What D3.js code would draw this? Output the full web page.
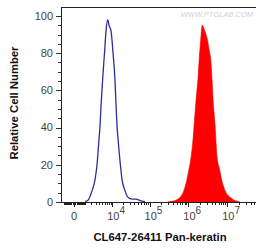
<!DOCTYPE html>
<html><head><meta charset="utf-8">
<script src="https://cdn.jsdelivr.net/npm/d3@7"></script>
<style>body{margin:0;background:#fff;}svg{display:block;}</style>
</head><body>
<svg id="c" width="256" height="249"></svg>
<script>
// Data (fluorescence intensity, relative cell number)
const controlX = [1067,1500,2210,2868,3370,3940,4257,4590,5120,5990,6560,7380,8060,9220,10530,12000,12800,13640,14540,16500,18750,22600,27200,34800,44400,56600,76400];
const controlY = [0.3,1,6,12,20,34,41,52,65,82,92,98,95,92,80,65,52,41,34,22,12,6,2.5,1.5,1.5,0.8,0.2];
const sampleX = [300000,361000,485000,614000,734000,877000,1030000,1180000,1330000,1410000,1590000,1800000,1900000,2070000,2300000,2550000,2850000,3050000,3430000,3800000,4100000,4340000,4890000,5500000,6300000,7200000,7850000,9370000,11900000,15000000,19000000,21000000];
const sampleY = [0,0.3,1,2.5,5,10,17,24,34,41,55,68,76,86,95,93,90,88,82,76,65,55,41,24,18,12,9,5,2.5,1,0.3,0];
const xMajor = [0,1e4,1e5,1e6,1e7];
const xMajorExp = ["", "4","5","6","7"];
const yTicks = [0,20,40,60,80,100];
const xTitle = "CL647-26411 Pan-keratin";
const yTitle = "Relative Cell Number";
const watermark = "WWW.PTGLAB.COM";

const svg = d3.select("#c");
const L = 61, R = 256, T = 7, B = 202;
const x = d3.scaleSymlog().constant(1163).domain([-1350, 5.5e7]).range([L, R]);
const y = d3.scaleLinear().domain([0, 104.8]).range([B, T]);
const font = "Liberation Sans, Arial, Helvetica, sans-serif";

// watermark
svg.append("text").attr("x", 253).attr("y", 17).attr("text-anchor","end")
  .attr("font-family", font).attr("font-size", 7.5).attr("font-style","italic")
  .attr("fill", "#d0d0d0").text(watermark);

// red filled histogram
const area = d3.area().x((d,i)=>x(sampleX[i])).y0(y(0)).y1((d,i)=>y(sampleY[i])).curve(d3.curveMonotoneX);
svg.append("path").datum(sampleY).attr("d", area).attr("fill", "#ff0000").attr("stroke","#e80000").attr("stroke-width",0.6);

// blue control line
const line = d3.line().x((d,i)=>x(controlX[i])).y((d,i)=>y(controlY[i])).curve(d3.curveMonotoneX);
svg.append("path").datum(controlY).attr("d", line).attr("fill","none").attr("stroke","#2c2c9c").attr("stroke-width",1.3);

// frame: top, left, bottom
svg.append("line").attr("x1",L).attr("x2",R).attr("y1",T+0.5).attr("y2",T+0.5).attr("stroke","#222").attr("stroke-width",1);
svg.append("line").attr("x1",L+0.5).attr("x2",L+0.5).attr("y1",T).attr("y2",B).attr("stroke","#222").attr("stroke-width",1);
svg.append("line").attr("x1",L).attr("x2",R).attr("y1",B+0.5).attr("y2",B+0.5).attr("stroke","#222").attr("stroke-width",1);

// y axis
const yMinor = d3.range(0, 105, 5).filter(v => v % 20 !== 0);
svg.selectAll(".ymin").data(yMinor).enter().append("line")
  .attr("x1", L-3).attr("x2", L).attr("y1", d=>Math.round(y(d))+0.5).attr("y2", d=>Math.round(y(d))+0.5)
  .attr("stroke","#333").attr("stroke-width",1);
svg.selectAll(".ymaj").data(yTicks).enter().append("line")
  .attr("x1", L-5).attr("x2", L).attr("y1", d=>Math.round(y(d))+0.5).attr("y2", d=>Math.round(y(d))+0.5)
  .attr("stroke","#333").attr("stroke-width",1);
svg.selectAll(".ylab").data(yTicks).enter().append("text")
  .attr("x", L-8).attr("y", d=>y(d)+3.8).attr("text-anchor","end")
  .attr("font-family", font).attr("font-size", 11).attr("fill","#444").text(d=>d);

// x axis minor ticks
let xMinor = [];
for (let k=1;k<=9;k++){ xMinor.push(-k*100); xMinor.push(k*100); }
for (let n=3;n<=7;n++) for (let k=2;k<=9;k++) xMinor.push(k*Math.pow(10,n));
xMinor.push(-1000); xMinor.push(1000);
xMinor = xMinor.filter(v => x(v) >= L && x(v) <= R);
svg.selectAll(".xmin").data(xMinor).enter().append("line")
  .attr("x1", d=>Math.round(x(d))+0.5).attr("x2", d=>Math.round(x(d))+0.5)
  .attr("y1", B).attr("y2", B+3).attr("stroke","#222").attr("stroke-width",1);
svg.selectAll(".xmaj").data(xMajor).enter().append("line")
  .attr("x1", d=>Math.round(x(d))+0.5).attr("x2", d=>Math.round(x(d))+0.5)
  .attr("y1", B).attr("y2", B+5).attr("stroke","#222").attr("stroke-width",1);
const xl = svg.selectAll(".xlab").data(xMajor).enter().append("text")
  .attr("y", B+18).attr("font-family", font).attr("font-size", 11).attr("fill","#444");
xl.each(function(d,i){
  const t = d3.select(this);
  if (d === 0) { t.attr("x", x(d)).attr("text-anchor","middle").text("0"); }
  else {
    t.attr("x", x(d)-5);
    t.append("tspan").text("10");
    t.append("tspan").attr("dy",-6).attr("font-size",10).text(xMajorExp[i]);
  }
});

// titles
svg.append("text").attr("x", 160).attr("y", 241).attr("text-anchor","middle")
  .attr("font-family", font).attr("font-weight","bold").attr("font-size", 11.3).attr("fill","#111").text(xTitle);
svg.append("text").attr("transform","translate(18,103) rotate(-90)").attr("text-anchor","middle")
  .attr("font-family", font).attr("font-weight","bold").attr("font-size", 11.3).attr("fill","#111").text(yTitle);
</script>
</body></html>
